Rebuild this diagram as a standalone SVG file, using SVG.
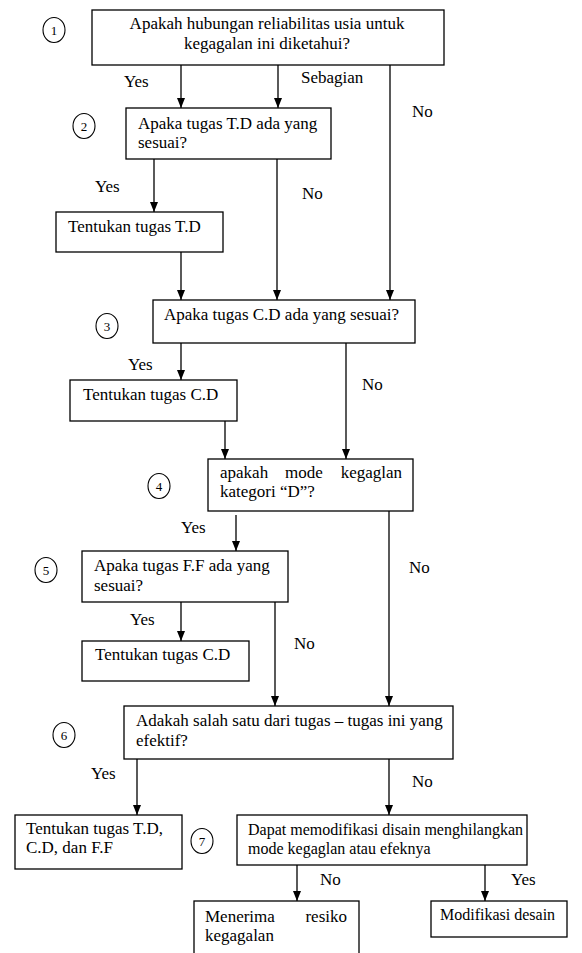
<svg xmlns="http://www.w3.org/2000/svg" width="582" height="953" viewBox="0 0 582 953">
<defs>
<marker id="ah" markerWidth="10" markerHeight="8" refX="10" refY="4" orient="auto" markerUnits="userSpaceOnUse" viewBox="0 0 10 8">
<path d="M0,0 L10,4 L0,8 Z" fill="#000"/>
</marker>
</defs>
<style>
.b{fill:#fff;stroke:#000;stroke-width:1.3}
.c{fill:none;stroke:#000;stroke-width:1.1}
.t{font-family:"Liberation Serif","Times New Roman",serif;font-size:17px;fill:#000}
.s{font-size:16px}
.n{font-family:"Liberation Serif","Times New Roman",serif;font-size:13px;fill:#000}
.a{stroke:#000;stroke-width:1.3;fill:none;marker-end:url(#ah)}
</style>
<rect width="582" height="953" fill="#fff"/>
<g id="connectors">
<line class="a" x1="181" y1="65" x2="181" y2="108"/>
<line class="a" x1="278" y1="65" x2="278" y2="108"/>
<line class="a" x1="390" y1="65" x2="390" y2="300"/>
<line class="a" x1="154" y1="159" x2="154" y2="212"/>
<line class="a" x1="277" y1="159" x2="277" y2="300"/>
<line class="a" x1="181" y1="252" x2="181" y2="300"/>
<line class="a" x1="181" y1="343" x2="181" y2="380"/>
<line class="a" x1="346" y1="343" x2="346" y2="459"/>
<line class="a" x1="225" y1="421" x2="225" y2="459"/>
<line class="a" x1="236" y1="515" x2="236" y2="551"/>
<line class="a" x1="389" y1="511" x2="389" y2="706"/>
<line class="a" x1="181" y1="602" x2="181" y2="641"/>
<line class="a" x1="275" y1="602" x2="275" y2="706"/>
<line class="a" x1="137" y1="759" x2="137" y2="815"/>
<line class="a" x1="389" y1="759" x2="389" y2="815"/>
<line class="a" x1="297" y1="865" x2="297" y2="901"/>
<line class="a" x1="485" y1="865" x2="485" y2="901"/>
<text class="t" x="124" y="87">Yes</text>
<text class="t" x="301" y="83">Sebagian</text>
<text class="t" x="412" y="117">No</text>
<text class="t" x="95" y="192">Yes</text>
<text class="t" x="302" y="199">No</text>
<text class="t" x="128" y="370">Yes</text>
<text class="t" x="362" y="390">No</text>
<text class="t" x="181" y="533">Yes</text>
<text class="t" x="409" y="573">No</text>
<text class="t" x="130" y="625">Yes</text>
<text class="t" x="294" y="649">No</text>
<text class="t" x="91" y="779">Yes</text>
<text class="t" x="412" y="787">No</text>
<text class="t" x="320" y="885">No</text>
<text class="t" x="511" y="885">Yes</text>
</g>
<g id="n1">
<ellipse class="c" cx="54" cy="30" rx="11" ry="12.5"/>
<text class="n" x="54" y="35" text-anchor="middle">1</text>
<rect class="b" x="92" y="10" width="352" height="55"/>
<text class="t" x="267" y="29" text-anchor="middle">Apakah hubungan reliabilitas usia untuk</text>
<text class="t" x="267" y="49" text-anchor="middle">kegagalan ini diketahui?</text>
</g>
<g id="n2">
<ellipse class="c" cx="84" cy="126" rx="11" ry="12.5"/>
<text class="n" x="84" y="131" text-anchor="middle">2</text>
<rect class="b" x="126" y="108" width="205" height="51"/>
<text class="t" x="138" y="129">Apaka tugas T.D ada yang</text>
<text class="t" x="138" y="148">sesuai?</text>
</g>
<g id="n2y">
<rect class="b" x="56" y="212" width="167" height="40"/>
<text class="t" x="68" y="232">Tentukan tugas T.D</text>
</g>
<g id="n3">
<ellipse class="c" cx="107" cy="326" rx="11" ry="12.5"/>
<text class="n" x="107" y="331" text-anchor="middle">3</text>
<rect class="b" x="153" y="300" width="262" height="43"/>
<text class="t" x="164" y="320">Apaka tugas C.D ada yang sesuai?</text>
</g>
<g id="n3y">
<rect class="b" x="70" y="380" width="167" height="41"/>
<text class="t" x="83" y="400">Tentukan tugas C.D</text>
</g>
<g id="n4">
<ellipse class="c" cx="159" cy="486" rx="11" ry="12.5"/>
<text class="n" x="159" y="491" text-anchor="middle">4</text>
<rect class="b" x="208" y="459" width="205" height="52"/>
<text class="t" x="220" y="478">apakah</text>
<text class="t" x="304" y="478" text-anchor="middle">mode</text>
<text class="t" x="402" y="478" text-anchor="end">kegaglan</text>
<text class="t" x="220" y="497">kategori “D”?</text>
</g>
<g id="n5">
<ellipse class="c" cx="46" cy="570" rx="11" ry="12.5"/>
<text class="n" x="46" y="575" text-anchor="middle">5</text>
<rect class="b" x="82" y="551" width="206" height="51"/>
<text class="t" x="94" y="571">Apaka tugas F.F ada yang</text>
<text class="t" x="94" y="591">sesuai?</text>
</g>
<g id="n5y">
<rect class="b" x="82" y="641" width="167" height="40"/>
<text class="t" x="95" y="660">Tentukan tugas C.D</text>
</g>
<g id="n6">
<ellipse class="c" cx="64" cy="735" rx="11" ry="12.5"/>
<text class="n" x="64" y="740" text-anchor="middle">6</text>
<rect class="b" x="124" y="706" width="329" height="53"/>
<text class="t" x="136" y="726">Adakah salah satu dari tugas – tugas ini yang</text>
<text class="t" x="136" y="746">efektif?</text>
</g>
<g id="n6y">
<rect class="b" x="15" y="815" width="167" height="54"/>
<text class="t" x="26" y="834">Tentukan tugas T.D,</text>
<text class="t" x="26" y="853">C.D, dan F.F</text>
</g>
<g id="n7">
<ellipse class="c" cx="202" cy="841" rx="11" ry="12.5"/>
<text class="n" x="202" y="846" text-anchor="middle">7</text>
<rect class="b" x="237" y="815" width="290" height="50"/>
<text class="t s" x="248" y="835">Dapat memodifikasi disain menghilangkan</text>
<text class="t s" x="248" y="854">mode kegaglan atau efeknya</text>
</g>
<g id="n7no">
<rect class="b" x="194" y="901" width="165" height="70"/>
<text class="t" x="205" y="922">Menerima</text>
<text class="t" x="347" y="922" text-anchor="end">resiko</text>
<text class="t" x="205" y="941">kegagalan</text>
</g>
<g id="n7yes">
<rect class="b" x="431" y="901" width="136" height="36"/>
<text class="t s" x="440" y="920">Modifikasi desain</text>
</g>
</svg>
